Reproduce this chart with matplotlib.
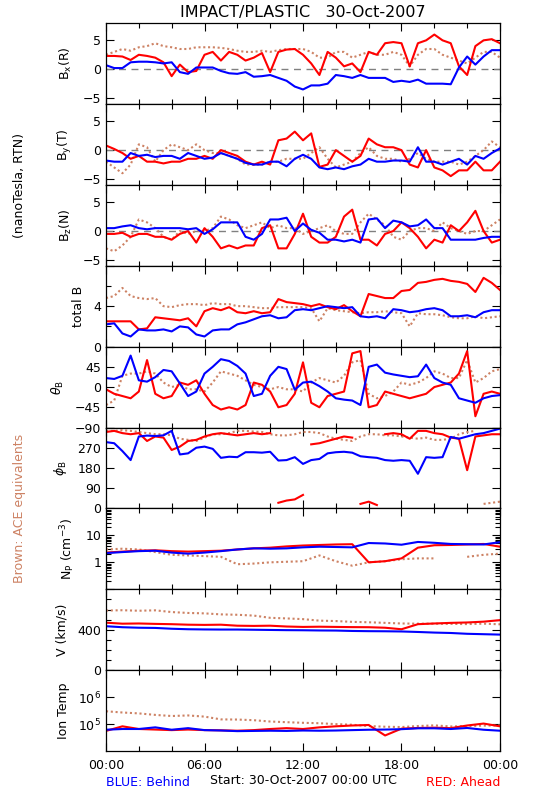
import numpy as np
import matplotlib
matplotlib.use("Agg")
import matplotlib.pyplot as plt
from matplotlib.ticker import FixedLocator, LogLocator, NullFormatter, NullLocator

RED = "#ff0000"
BLUE = "#0000ff"
BROWN = "#cd8264"

# sample times (hours after start)
t_half = np.arange(0, 24.5, 0.5)
t_hour = np.arange(0, 25, 1.0)

# Bx (R), nT
bx_red = [2.3, 2.3, 2.2, 1.6, 2.5, 2.3, 2.0, 1.2, -1.2, 0.8, -0.5, -0.3, 2.5, 3.0, 1.5, 3.0,
          2.5, 1.5, 2.0, 2.8, -0.5, 3.0, 3.4, 3.5, 2.5, 1.0, -1.0, 3.0, 2.0, 0.5, 1.0, -0.5,
          3.0, 2.5, 4.5, 4.7, 4.5, 0.5, 4.5, 5.0, 6.0, 5.0, 4.5, 0.5, -1.0, 4.0, 5.0, 5.2, 4.5]
bx_blue = [0.7, 0.2, 0.2, 1.2, 1.3, 1.3, 1.2, 1.0, 1.2, -0.5, -0.8, 0.3, 0.3, 0.3, -0.3, -0.7,
           -0.8, -0.5, -1.3, -1.2, -1.0, -1.5, -2.0, -3.0, -3.5, -2.8, -2.8, -2.5, -1.0, -1.2, -1.5, -1.0,
           -1.5, -1.5, -1.5, -2.2, -2.0, -2.2, -1.8, -2.5, -2.5, -2.5, -2.6, 0.3, 2.2, 0.8, 2.2, 3.3, 3.3]
bx_ace = [2.5, 3.0, 3.5, 3.2, 3.8, 4.0, 4.5, 4.0, 3.8, 3.5, 3.5, 3.8, 3.8, 3.8, 3.7, 3.5,
          3.2, 3.0, 3.0, 3.2, 3.0, 3.3, 3.5, 3.5, 3.5, 3.0, 2.0, 2.0, 3.0, 3.0, 2.0, 2.5,
          3.0, 2.5, 2.5, 3.0, 2.5, 0.5, 2.5, 3.5, 3.5, 2.5, 2.0, 1.5, 1.0, 2.0, 3.0, 3.0, 2.0]

# By (T), nT
by_red = [0.8, 0.2, -0.5, -1.5, -1.0, -2.0, -2.0, -2.3, -2.0, -2.0, -1.5, -1.5, -1.0, -1.5, 0.0, -0.5,
          -1.0, -2.0, -2.5, -2.0, -2.5, 1.7, 2.0, 3.2, 1.7, 2.9, -2.9, -2.5, 0.0, -1.0, -2.0, -1.0,
          2.0, 1.0, 0.5, 0.5, 0.0, -2.5, -3.0, 0.0, -3.0, -3.5, -4.5, -3.5, -3.5, -2.0, -3.5, -3.5, -2.0]
by_blue = [-1.8, -2.0, -2.0, -0.5, -1.0, -0.8, -1.2, -1.0, -1.0, -1.5, -0.5, -1.0, -1.5, -1.3, -0.5, -1.0,
           -1.5, -2.2, -2.5, -2.5, -2.0, -2.0, -2.8, -1.5, -0.8, -1.5, -3.0, -3.3, -3.0, -3.3, -2.8, -2.5,
           -1.5, -2.0, -2.0, -1.8, -1.8, -2.0, 0.5, -2.0, -2.0, -2.5, -2.0, -1.5, -2.5, -1.0, -1.5, -0.5, 0.3]
by_ace = [-2.0, -3.0, -4.0, -2.5, 1.0, 0.5, -2.0, 0.0, 1.0, 0.5, 0.0, 1.0, 0.0, -0.5, -0.5, -1.0,
          -1.5, -2.5, -2.5, -2.5, -2.0, -2.0, -1.5, -1.5, -1.5, -0.5, 0.5, -1.5, -3.0, -2.5, -2.0, -0.5,
          0.5, -1.0, -1.5, -1.5, -2.0, -1.5, -0.5, -1.5, -2.0, -2.0, -2.0, -2.5, -2.0, -1.0, 0.0, 1.5, 0.5]

# Bz (N), nT
bz_red = [-0.5, -0.5, -0.3, -1.0, -0.5, -0.5, -1.0, -1.0, -1.5, -0.5, 0.0, -2.0, 0.5, -1.0, -3.0, -2.5,
          -3.0, -2.5, -2.5, 0.5, 1.0, -3.0, -3.0, -0.5, 3.0, -1.0, -2.0, -2.0, -1.0, 2.5, 3.7, -1.5,
          -1.5, -2.5, -0.5, 0.0, 1.5, 0.5, -1.0, -3.0, -1.5, -2.0, 1.0, 0.0, 1.5, 3.5, 0.0, -2.0, -1.5]
bz_blue = [0.5, 0.5, 0.8, 1.0, 0.5, 0.3, 0.5, 0.5, 0.5, 0.5, 0.3, 0.5, -0.5, 0.3, 1.5, 1.5,
           1.5, -1.0, -1.5, -0.5, 2.0, 2.0, 2.3, 0.0, 1.3, 0.2, -0.3, -1.5, -1.5, -1.8, -1.5, -2.0,
           2.0, 2.2, 0.5, 1.8, 1.5, 0.8, 1.0, 2.0, 0.5, 0.5, -1.5, -1.5, -1.5, -1.5, -1.2, -1.0, -1.0]
bz_ace = [-3.0, -3.5, -2.5, -1.0, 2.0, 1.5, 0.5, -1.0, -1.5, 0.0, -0.5, 0.0, 0.0, 0.5, 2.5, 2.0,
          1.0, 0.5, 1.0, 1.5, 0.5, 1.0, 0.5, 0.5, -0.5, 0.0, 0.5, 1.0, 0.0, -0.5, -0.5, 1.5,
          3.0, 2.0, 1.0, -1.0, -1.5, 0.0, 0.5, 0.5, 0.0, 1.5, 0.5, 0.0, -0.5, 0.0, 0.0, 1.0, 2.0]

# total B, nT
bt_red = [2.5, 2.5, 2.5, 2.5, 1.7, 1.8, 2.9, 2.8, 2.7, 2.6, 2.8, 2.0, 3.5, 3.8, 3.6, 3.9,
          3.4, 3.3, 3.5, 3.3, 3.4, 4.7, 4.4, 4.3, 4.2, 4.0, 4.2, 3.9, 3.7, 4.1, 3.5, 3.0,
          5.2, 5.0, 4.8, 4.8, 5.5, 5.6, 6.3, 6.4, 6.6, 6.7, 6.5, 6.4, 6.2, 5.4, 6.8, 6.3, 5.6]
bt_blue = [2.2, 2.3, 1.3, 1.0, 1.7, 1.6, 1.6, 1.7, 1.5, 2.0, 1.9, 1.2, 1.0, 1.6, 1.7, 1.7,
           2.2, 2.4, 2.7, 3.0, 3.1, 2.8, 2.9, 3.6, 3.7, 3.6, 3.8, 4.0, 3.9, 3.8, 3.9, 3.0,
           2.9, 3.0, 2.8, 3.7, 3.6, 3.4, 3.5, 3.7, 3.8, 3.6, 3.0, 3.0, 3.1, 2.9, 3.4, 3.6, 3.6]
bt_ace = [4.8, 5.0, 5.8, 5.0, 4.8, 4.7, 4.8, 4.0, 3.9, 4.1, 4.2, 4.2, 4.1, 4.3, 4.2, 4.2,
          4.0, 4.0, 3.9, 3.8, 3.8, 3.9, 3.9, 3.9, 3.9, 3.8, 2.5, 3.8, 3.6, 3.5, 3.4, 3.3,
          3.4, 3.4, 3.5, 3.4, 3.3, 2.0, 3.3, 3.2, 3.2, 3.1, 2.9, 2.8, 2.8, 3.0, 2.8, 2.9, 3.0]

# theta_B, deg
th_red = [-5, -15, -20, -25, -10, 60, -15, -25, -20, 10, 5, 15, -15, -40, -50, -45,
          -50, -40, 10, 5, -10, -45, -40, -15, 55, -35, -45, -20, -15, -10, 75, 80,
          -45, -40, -10, -15, -20, -25, -20, -15, 0, 5, 10, 30, 80, -65, -15, -10, -15]
th_blue = [20, 18, 25, 70, 15, 12, 22, 38, 35, 8, -20, -10, 30, 45, 62, 58,
           47, 30, -20, -15, 25, 45, 40, -6, 10, 12, 2, -10, -25, -28, -30, -40,
           45, 50, 32, 28, 25, 22, 24, 50, 20, 10, 5, -25, -30, -35, -25, -20, -18]
th_ace = [-40, -30, 25, 30, 30, 35, 30, 10, 0, 5, -5, -5, -10, 10, 35, 30,
          25, 15, 5, 0, -5, 0, -5, -5, -10, 10, 20, 15, 10, 25, 55, 60,
          -15, -25, -20, -10, 10, 5, 10, 20, 35, 30, 20, 20, 60, 10, 20, 35, 40]

# phi_B, deg
ph_red = [340, 345, 335, 330, 335, 300, 320, 315, 260, 275, 300, 305, 320, 330, 335, 330,
          325, 330, 335, 330, 335, 25, 35, 40, 60, 285, 290, 300, 310, 320, 315, 20,
          30, 15, 330, 335, 330, 310, 345, 345, 335, 330, 315, 310, 170, 320, 325, 330, 330]
ph_blue = [295, 290, 255, 215, 320, 324, 322, 325, 345, 240, 245, 270, 275, 265, 225, 230,
           228, 250, 250, 248, 252, 213, 215, 228, 198, 215, 220, 245, 250, 252, 248, 232,
           228, 225, 215, 212, 215, 212, 154, 228, 225, 228, 318, 310, 320, 330, 335, 345, 355]
ph_ace = [345, 345, 348, 345, 340, 335, 330, 330, 325, 310, 305, 300, 315, 330, 330, 335,
          345, 345, 342, 340, 330, 325, 325, 330, 340, 340, 335, 320, 310, 305, 300, 320,
          330, 330, 325, 325, 320, 315, 310, 315, 305, 305, 310, 330, 340, 345, 20, 25, 30]

# proton density, cm^-3 (hourly)
np_red = [2.3, 2.5, 2.7, 2.8, 2.6, 2.5, 2.6, 2.7, 3.0, 3.3, 3.5, 3.9, 4.2, 4.4, 4.6, 4.7,
          1.0, 1.1, 1.4, 3.5, 4.3, 4.4, 4.6, 4.8, 3.8]
np_blue = [2.2, 2.4, 2.6, 2.7, 2.3, 2.1, 2.3, 2.6, 3.0, 3.3, 3.2, 3.3, 3.6, 3.8, 3.7, 3.6,
           5.2, 5.0, 4.5, 5.7, 5.3, 4.8, 4.7, 4.6, 5.6]
np_ace = [3.0, 3.2, 3.0, 2.4, 1.9, 1.8, 1.7, 1.6, 0.85, 0.9, 1.0, 1.05, 1.1, 1.8, 1.1, 0.75,
          1.0, 1.1, 1.3, 1.4, 1.4, np.nan, 1.6, 1.9, 2.1]

# bulk speed, km/s (hourly)
v_red = [470, 460, 462, 458, 455, 450, 448, 450, 440, 438, 440, 432, 428, 430, 428, 426,
         425, 420, 405, 455, 462, 468, 472, 480, 495]
v_blue = [435, 425, 420, 418, 410, 405, 403, 402, 402, 400, 398, 396, 395, 393, 392, 388,
          386, 385, 383, 378, 372, 368, 360, 356, 352]
v_ace = [590, 593, 588, 592, 575, 566, 562, 552, 548, 540, 518, 512, 505, 490, 486, 478,
         474, 468, 462, 460, 460, 458, 456, 460, 454]

# ion temperature, K (hourly)
temp_red = [56000, 83000, 66000, 63000, 60000, 63000, 60000, 59000, 57000, 60000, 66000, 71000,
            66000, 76000, 83000, 89000, 93000, 38000, 68000, 72000, 74000, 71000, 89000, 105000, 83000]
temp_blue = [62000, 66000, 66000, 76000, 62000, 71000, 60000, 58000, 55000, 56000, 57000, 56000,
             58000, 57000, 58000, 60000, 62000, 63000, 65000, 70000, 70000, 66000, 72000, 62000, 57000]
temp_ace = [300000, 270000, 250000, 220000, 200000, 210000, 190000, 150000, 148000, 140000, 125000,
            118000, 112000, 108000, 100000, 95000, 85000, 80000, 78000, 85000, 90000, 82000, 85000,
            88000, 90000]


def unwrap_breaks(vals):
    # break the line where the angle wraps through 0/360
    v = np.array(vals, dtype=float)
    out_t, out_v = [], []
    for i in range(len(v)):
        if i > 0 and abs(v[i] - v[i - 1]) > 180:
            out_t.append(np.nan)
            out_v.append(np.nan)
        out_t.append(t_half[i])
        out_v.append(v[i])
    return np.array(out_t), np.array(out_v)


fig = plt.figure(figsize=(5.5, 8), dpi=100)
plt.rcParams['font.family'] = 'DejaVu Sans'

W, H = 550.0, 800.0
left = 106 / W
width = 394 / W
top_px = 23.0
panel_h = 80.9

axes = []
for i in range(9):
    y0 = 1 - (top_px + (i + 1) * panel_h) / H
    ax = fig.add_axes([left, y0, width, panel_h / H])
    axes.append(ax)

lw = 1.5
ace_style = dict(color=BROWN, lw=1.5, linestyle=(0, (1, 1.3)))


def draw3(ax, t, ace, red, blue):
    ax.plot(t, ace, **ace_style)
    ax.plot(t, red, color=RED, lw=lw)
    ax.plot(t, blue, color=BLUE, lw=lw)


# magnetic field components
comp = [(bx_ace, bx_red, bx_blue, r'B$_\mathregular{x}$(R)'),
        (by_ace, by_red, by_blue, r'B$_\mathregular{y}$(T)'),
        (bz_ace, bz_red, bz_blue, r'B$_\mathregular{z}$(N)')]
for ax, (a, r, b, lab) in zip(axes[:3], comp):
    ax.axhline(0, color='gray', lw=1, linestyle=(0, (5, 4)))
    draw3(ax, t_half, a, r, b)
    ax.set_ylim(-6, 8)
    ax.set_yticks([-5, 0, 5])
    ax.set_yticklabels(['\u22125', '0', '5'])
    ax.set_ylabel(lab)

# total B
ax = axes[3]
draw3(ax, t_half, bt_ace, bt_red, bt_blue)
ax.set_ylim(0, 8)
ax.set_yticks([0, 4, 8])
ax.set_yticklabels(['0', '4', ''])
ax.yaxis.set_minor_locator(FixedLocator([2, 6]))
ax.set_ylabel('total B')

# theta
ax = axes[4]
draw3(ax, t_half, th_ace, th_red, th_blue)
ax.set_ylim(-90, 90)
ax.set_yticks([-90, -45, 0, 45, 90])
ax.set_yticklabels(['\u221290', '\u221245', '0', '45', ''])
ax.set_ylabel(r'$\theta_\mathregular{B}$')

# phi
ax = axes[5]
for vals, c in [(ph_ace, None), (ph_red, RED), (ph_blue, BLUE)]:
    tt, vv = unwrap_breaks(vals)
    if c is None:
        ax.plot(tt, vv, **ace_style)
    else:
        ax.plot(tt, vv, color=c, lw=lw)
ax.set_ylim(0, 360)
ax.set_yticks([0, 90, 180, 270, 360])
ax.set_yticklabels(['0', '90', '180', '270', ''])
ax.set_ylabel(r'$\phi_\mathregular{B}$')

# density
ax = axes[6]
draw3(ax, t_hour, np_ace, np_red, np_blue)
ax.set_yscale('log')
ax.set_ylim(0.1, 100)
ax.set_yticks([1, 10])
ax.set_yticklabels(['1', '10'])
ax.yaxis.set_minor_locator(LogLocator(base=10, subs=np.arange(2, 10)))
ax.yaxis.set_minor_formatter(NullFormatter())
ax.set_ylabel(r'N$_\mathregular{P}$ (cm$^{\mathregular{-3}}$)')

# speed
ax = axes[7]
draw3(ax, t_hour, v_ace, v_red, v_blue)
ax.set_ylim(0, 800)
ax.set_yticks([0, 400, 800])
ax.set_yticklabels(['0', '400', ''])
ax.yaxis.set_minor_locator(FixedLocator([100, 200, 300, 500, 600, 700]))
ax.set_ylabel('V (km/s)')

# temperature
ax = axes[8]
draw3(ax, t_hour, temp_ace, temp_red, temp_blue)
ax.set_yscale('log')
ax.set_ylim(1e4, 1e7)
ax.set_yticks([1e5, 1e6])
ax.set_yticklabels([r'10$^\mathregular{5}$', r'10$^\mathregular{6}$'])
ax.yaxis.set_minor_locator(NullLocator())
ax.set_ylabel('Ion Temp')

for i, ax in enumerate(axes):
    ax.set_xlim(0, 24)
    ax.set_xticks([0, 6, 12, 18, 24])
    ax.xaxis.set_minor_locator(FixedLocator([2, 4, 8, 10, 14, 16, 20, 22]))
    ax.tick_params(which='both', direction='in', top=True, right=True, labelsize=9, width=0.8)
    ax.tick_params(which='major', length=6)
    ax.tick_params(which='minor', length=3.5)
    ax.yaxis.label.set_size(9)
    ax.yaxis.labelpad = 6
    for s in ax.spines.values():
        s.set_linewidth(0.9)
    if i < 8:
        ax.set_xticklabels([])
    else:
        ax.set_xticklabels(['00:00', '06:00', '12:00', '18:00', '00:00'])
        ax.tick_params(axis='x', pad=6)

fig.text(303 / W, 1 - 12 / H, 'IMPACT/PLASTIC   30-Oct-2007', ha='center', va='center', fontsize=11.5)
fig.text(20 / W, 1 - 186 / H, '(nanoTesla, RTN)', rotation=90, ha='center', va='center', fontsize=9)
fig.text(20 / W, 1 - 508 / H, 'Brown: ACE equivalents', rotation=90, ha='center', va='center',
         fontsize=9, color=BROWN)
fig.text(106 / W, 1 - 783 / H, 'BLUE: Behind', ha='left', va='center', fontsize=9, color=BLUE)
fig.text(303 / W, 1 - 781 / H, 'Start: 30-Oct-2007 00:00 UTC', ha='center', va='center', fontsize=9)
fig.text(500 / W, 1 - 783 / H, 'RED: Ahead', ha='right', va='center', fontsize=9, color=RED)

fig.savefig('out.png', dpi=100)
